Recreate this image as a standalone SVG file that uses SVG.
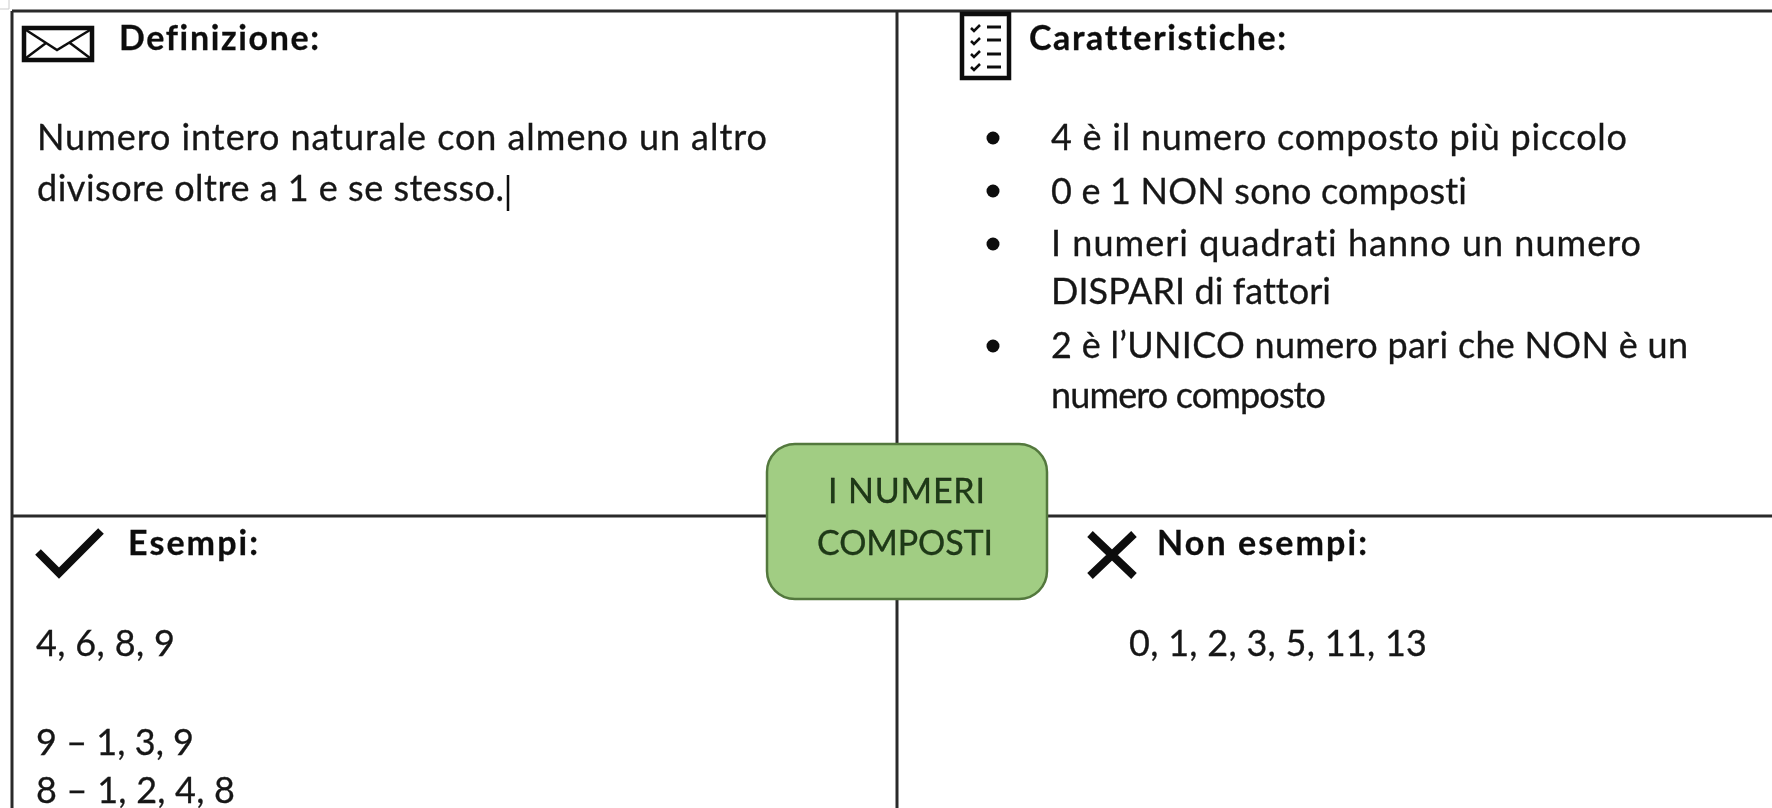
<svg xmlns="http://www.w3.org/2000/svg" width="1772" height="808" viewBox="0 0 1772 808">
<defs><filter id="soft" x="0" y="0" width="100%" height="100%" filterUnits="userSpaceOnUse"><feGaussianBlur stdDeviation="0.45"/></filter></defs>
<style>
text{font-family:"Lato","Open Sans","Liberation Sans",sans-serif;font-size:36px;fill:#161616;font-variant-ligatures:none;stroke:#161616;stroke-width:.3}
.h{font-weight:700;font-size:34px;fill:#111}
.c{fill:#1f3a14;font-size:34px}
.l{stroke:#2b2b2b;stroke-width:3;fill:none}
.i{stroke:#111;fill:none}
</style>
<rect width="1772" height="808" fill="#fff"/>
<g filter="url(#soft)">
<g id="connectors">
<path class="l" d="M12 11H1772M12 11V808M897 11V444M897 599V808M12 516H767M1047 516H1772"/>
<path d="M0 9H9V0" fill="none" stroke="#ccc" stroke-width="1"/>
</g>
<g id="definizione">
<g class="i"><rect x="24" y="28" width="68" height="32" stroke-width="4.5"/><path d="M26 30L57 50L90 30M26 58L46 43M90 58L70 43" stroke-width="2.5"/></g>
<text class="h" x="119" y="50" textLength="200">Definizione:</text>
<text x="37" y="150" textLength="730">Numero intero naturale con almeno un altro</text>
<text x="37" y="201" textLength="467">divisore oltre a 1 e se stesso.</text>
<path d="M508 175V211" stroke="#111" stroke-width="2.5"/>
</g>
<g id="caratteristiche">
<g class="i"><rect x="962" y="14" width="47" height="64" stroke-width="4.5"/>
<path d="M971 28l3 3l6-6M971 41l3 3l6-6M971 54l3 3l6-6M971 67l3 3l6-6" stroke-width="2.5"/>
<path d="M987 27H1001M987 40H1001M987 54H1001M987 67H1001" stroke-width="3"/></g>
<text class="h" x="1029" y="50" textLength="257">Caratteristiche:</text>
<circle cx="993" cy="138" r="6.5" fill="#111"/><circle cx="993" cy="191" r="6.5" fill="#111"/><circle cx="993" cy="244" r="6.5" fill="#111"/><circle cx="993" cy="346" r="6.5" fill="#111"/>
<text x="1051" y="150" textLength="576">4 è il numero composto più piccolo</text>
<text x="1051" y="204" textLength="416">0 e 1 NON sono composti</text>
<text x="1051" y="256" textLength="590">I numeri quadrati hanno un numero</text>
<text x="1051" y="304" textLength="280">DISPARI di fattori</text>
<text x="1051" y="358" textLength="637">2 è l’UNICO numero pari che NON è un</text>
<text x="1051" y="408" textLength="275">numero composto</text>
</g>
<g id="esempi">
<path class="i" d="M38 552L59 573L101 531" stroke-width="8"/>
<text class="h" x="128" y="555" textLength="130">Esempi:</text>
<text x="36" y="656" textLength="139">4, 6, 8, 9</text>
<text x="36" y="755" textLength="158">9 – 1, 3, 9</text>
<text x="36" y="803" textLength="199">8 – 1, 2, 4, 8</text>
</g>
<g id="non-esempi">
<path class="i" d="M1090 534L1134 576M1134 534L1090 576" stroke-width="8"/>
<text class="h" x="1157" y="555" textLength="210">Non esempi:</text>
<text x="1129" y="656" textLength="298">0, 1, 2, 3, 5, 11, 13</text>
</g>
<g id="centro">
<rect x="767" y="444" width="280" height="155" rx="28" fill="#a1cd83" stroke="#53783d" stroke-width="2.5"/>
<text class="c" x="828" y="503" textLength="157">I NUMERI</text>
<text class="c" x="817" y="555" textLength="176">COMPOSTI</text>
</g>
</g>
</svg>
